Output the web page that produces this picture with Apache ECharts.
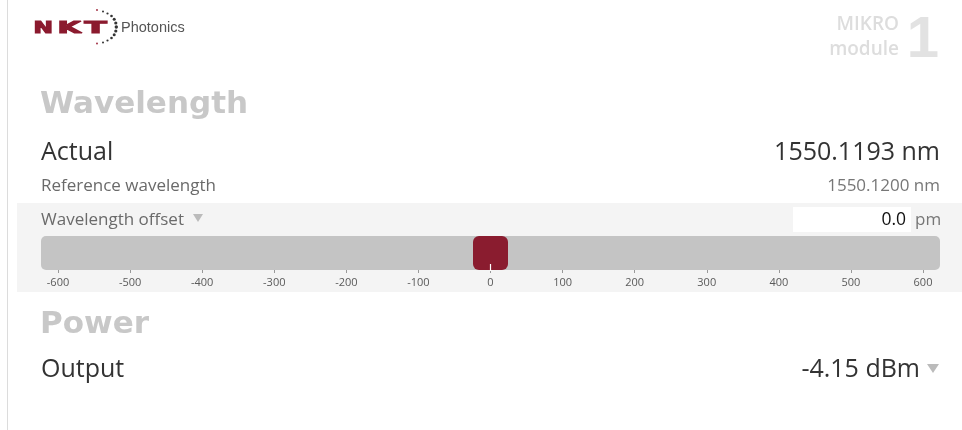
<!DOCTYPE html>
<html>
<head>
<meta charset="utf-8">
<script src="https://cdn.jsdelivr.net/npm/echarts@6/dist/echarts.min.js"></script>
<style>
html,body{margin:0;padding:0;background:#fff;}
#c{width:962px;height:430px;}
</style>
</head>
<body>
<div id="c"></div>
<script>
// ---- data ----
const offsetMin = -600;
const offsetMax = 600;
const offsetStep = 100;
const wavelengthOffset = [0.0];           // pm, slider position
const sectionTitles = ['Wavelength', 'Power'];
const rowLabels = ['Actual', 'Reference wavelength', 'Wavelength offset', 'Output'];
const rowValues = ['1550.1193 nm', '1550.1200 nm', '0.0', '-4.15 dBm'];
const offsetUnit = 'pm';
const moduleText = ['MIKRO', 'module', '1'];
const brand = ['N', 'K', 'T', 'Photonics'];

const chart = echarts.init(document.getElementById('c'), null, {renderer: 'canvas'});

const bodyFont = '"Open Sans", sans-serif';
const headFont = '"DejaVu Sans", sans-serif';

function txt(x, y, text, size, color, align, extra) {
  return Object.assign({
    type: 'text', x: x, y: y, silent: true,
    style: Object.assign({
      text: text, fontSize: size, fontFamily: bodyFont, fill: color,
      textAlign: align || 'left', textVerticalAlign: 'middle'
    }, (extra && extra.style) || {})
  }, extra ? {scaleX: extra.scaleX || 1} : {});
}

// logo dots (decoration)
const dots = [
  [97,10,0.9,'#9a2035'],[103,11.5,1.0,'#333'],[107.5,13.5,1.1,'#333'],[111.5,16,1.3,'#333'],
  [114.2,19.3,1.5,'#333'],[115.8,23,1.6,'#333'],[116.3,27,1.7,'#333'],[115.8,31,1.6,'#333'],
  [114.2,34.7,1.5,'#333'],[111.5,38,1.3,'#333'],[107.5,40.5,1.1,'#333'],[103,42.5,1.0,'#333'],
  [97,43.5,0.9,'#9a2035']
];

const logoStyle = {fontFamily: headFont, fontWeight: 'bold', stroke: '#8b1a2e', lineWidth: 1.1};

const graphics = [
  {type:'line', silent:true, shape:{x1:7.5,y1:0,x2:7.5,y2:430}, style:{stroke:'#dcdcdc',lineWidth:1}},
  {type:'rect', silent:true, z:-10, shape:{x:17,y:203,width:945,height:89}, style:{fill:'#f4f4f4'}},
  {type:'rect', silent:true, shape:{x:793,y:207,width:118,height:25}, style:{fill:'#ffffff'}},
  // NKT logo letters
  txt(33.5, 28.5, brand[0], 15.5, '#8b1a2e', 'left', {scaleX:1.5, style:logoStyle}),
  txt(57.5, 28.5, brand[1], 15.5, '#8b1a2e', 'left', {scaleX:1.95, style:logoStyle}),
  txt(84.5, 28.5, brand[2], 15.5, '#8b1a2e', 'left', {scaleX:2.1, style:logoStyle}),
  txt(121, 27.5, brand[3], 14.5, '#555555', 'left', {style:{fontFamily:'"Liberation Sans", Arial, sans-serif'}}),
  // module
  txt(899, 25, moduleText[0], 19, '#dddddd', 'right', {style:{fontWeight:600}}),
  txt(899, 50, moduleText[1], 19, '#dddddd', 'right', {style:{fontWeight:600}}),
  txt(939, 41, moduleText[2], 58, '#e2e2e2', 'right', {style:{fontFamily:'"Liberation Sans", Arial, sans-serif', fontWeight:'bold'}}),
  // headings
  txt(40, 105, sectionTitles[0], 31, '#c8c8c8', 'left', {style:{fontFamily:headFont, fontWeight:'bold'}}),
  txt(40, 325, sectionTitles[1], 31, '#c8c8c8', 'left', {style:{fontFamily:headFont, fontWeight:'bold'}}),
  // rows
  txt(41, 152.5, rowLabels[0], 25, '#333333'),
  txt(940, 152.5, rowValues[0], 25, '#333333', 'right'),
  txt(41, 186.5, rowLabels[1], 17, '#6a6a6a'),
  txt(940, 186.5, rowValues[1], 17, '#777777', 'right'),
  txt(41, 220, rowLabels[2], 17, '#6a6a6a'),
  {type:'polygon', silent:true, shape:{points:[[193,214],[203,214],[198,222]]}, style:{fill:'#bbbbbb'}},
  txt(906, 220, rowValues[2], 17.5, '#111111', 'right'),
  txt(915, 220, offsetUnit, 17, '#777777', 'left'),
  txt(41, 369.5, rowLabels[3], 25, '#333333'),
  txt(920, 369.5, rowValues[3], 25, '#333333', 'right'),
  {type:'polygon', silent:true, shape:{points:[[927,364],[939,364],[933,373]]}, style:{fill:'#bbbbbb'}}
];
dots.forEach(d => graphics.push({type:'circle', silent:true, shape:{cx:d[0],cy:d[1],r:d[2]}, style:{fill:d[3]}}));

const option = {
  animation: false,
  grid: {left: 58, right: 39, top: 236, height: 34},
  xAxis: {
    type: 'value', min: offsetMin, max: offsetMax, interval: offsetStep,
    axisLine: {show: false},
    splitLine: {show: false},
    axisTick: {show: true, length: 3, lineStyle: {color: '#999999'}},
    axisLabel: {fontSize: 11, color: '#5a5a5a', margin: 7, fontFamily: bodyFont}
  },
  yAxis: {type: 'value', min: 0, max: 1, show: false},
  series: [
    {
      type: 'custom', silent: true, z: 1,
      data: [[offsetMin, offsetMax]],
      renderItem: function (params, api) {
        const a = api.coord([api.value(0), 1]);
        const b = api.coord([api.value(1), 0]);
        return {type: 'rect', shape: {x: a[0] - 17, y: a[1], width: b[0] - a[0] + 34, height: b[1] - a[1], r: 5},
                style: {fill: '#c4c4c4'}};
      }
    },
    {
      type: 'custom', silent: true, z: 2,
      data: wavelengthOffset.map(v => [v]),
      renderItem: function (params, api) {
        const top = api.coord([api.value(0), 1]);
        const bot = api.coord([api.value(0), 0]);
        return {type: 'group', children: [
          {type: 'rect', shape: {x: top[0] - 17.5, y: top[1], width: 35, height: bot[1] - top[1], r: 6},
           style: {fill: '#8a1c2f'}},
          {type: 'line', shape: {x1: bot[0], y1: bot[1] - 6, x2: bot[0], y2: bot[1] + 1},
           style: {stroke: '#ffffff', lineWidth: 1.2}}
        ]};
      }
    }
  ],
  graphic: graphics
};
chart.setOption(option);
</script>
</body>
</html>
